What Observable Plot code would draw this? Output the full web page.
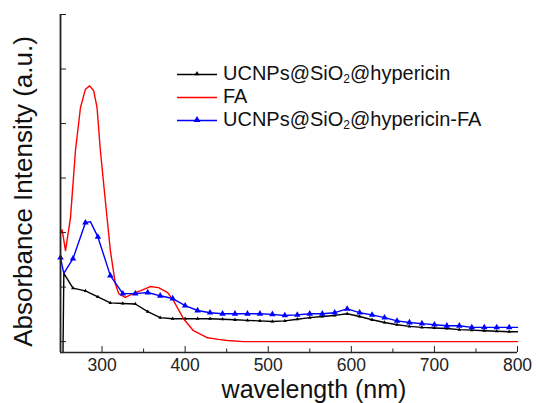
<!DOCTYPE html>
<html><head><meta charset="utf-8">
<script src="https://cdn.jsdelivr.net/npm/d3@7"></script>
<script src="https://cdn.jsdelivr.net/npm/@observablehq/plot@0.6"></script>
<style>
body{margin:0;background:#fff}
#wrap{position:relative;width:538px;height:403px;font-family:"Liberation Sans",Arial,sans-serif}
.leg{position:absolute;left:177px;top:62px;font-size:20px;color:#111}
.row{display:flex;align-items:center;height:23px;white-space:nowrap}
.row svg{margin-right:6px;flex:none}
sub{font-size:12px;vertical-align:-3px;line-height:0}
</style></head><body><div id="wrap"></div>
<script>
// wavelength (nm) and absorbance (a.u.)
const faWl  = [250,252,256,262,268,274,280,285,290,294,298,304,310,316,320,328,340,346,358,368,379,386,398,410,427,440,451,470,800];
const faAbs = [2.0,2.05,1.67,2.27,3.5,4.29,4.63,4.69,4.6,4.29,3.5,2.58,1.67,1.06,0.88,0.81,0.9,0.93,1.01,0.99,0.9,0.75,0.42,0.2,0.07,0.04,0.02,0,0];

const blueWl  = [250,254,265,280,286,295,310,325,340,355,370,385,400,415,430,445,460,475,490,505,520,535,550,565,580,595,610,625,640,655,670,685,700,715,730,745,760,775,790,800];
const blueAbs = [1.54,1.25,1.52,2.18,2.2,1.92,1.21,0.88,0.88,0.9,0.84,0.79,0.66,0.57,0.53,0.51,0.51,0.51,0.51,0.5,0.48,0.49,0.51,0.51,0.53,0.6,0.53,0.49,0.44,0.38,0.35,0.33,0.31,0.29,0.29,0.26,0.26,0.26,0.26,0.26];

const blackWl  = [253,254,265,280,295,310,325,340,355,370,385,400,415,430,445,460,475,490,505,520,535,550,565,580,595,610,625,640,655,670,685,700,715,730,745,760,775,790,800];
const blackAbs = [-0.2,1.25,0.98,0.93,0.82,0.71,0.7,0.69,0.55,0.44,0.42,0.42,0.42,0.42,0.41,0.4,0.39,0.38,0.37,0.38,0.41,0.44,0.46,0.48,0.51,0.46,0.4,0.35,0.31,0.28,0.26,0.25,0.24,0.22,0.21,0.2,0.19,0.18,0.18];

const majorTicks = [300,400,500,600,700,800];
const minorTicks = [350,450,550,650,750];
const yTicks = [0,1,2,3,4,5,6];

const seriesNames = ["UCNPs@SiO₂@hypericin","FA","UCNPs@SiO₂@hypericin-FA"];
const seriesColors = ["#000000","#ff0000","#0000ff"];

const fa = faWl.map((w,i)=>({w, a: faAbs[i]}));
const blue = blueWl.map((w,i)=>({w, a: blueAbs[i]}));
const black = blackWl.map((w,i)=>({w, a: blackAbs[i]}));
const isMarker = d => (d.w - 250) % 15 === 0 && d.w <= 790;

const chart = Plot.plot({
  width: 538, height: 403,
  marginLeft: 60, marginRight: 21, marginTop: 14, marginBottom: 51,
  style: {fontFamily: "Liberation Sans, Arial, sans-serif", fontSize: "17.5px", color: "#222", background: "#fff"},
  x: {domain: [250, 800]},
  y: {domain: [-0.2, 6]},
  marks: [
    Plot.line(black, {x: "w", y: "a", stroke: seriesColors[0], strokeWidth: 1.4}),
    Plot.dot(black.filter(isMarker), {x: "w", y: "a", symbol: "triangle", r: 1.4, fill: seriesColors[0]}),
    Plot.line(fa, {x: "w", y: "a", stroke: seriesColors[1], strokeWidth: 1.4}),
    Plot.line(blue, {x: "w", y: "a", stroke: seriesColors[2], strokeWidth: 1.4}),
    Plot.dot(blue.filter(isMarker), {x: "w", y: "a", symbol: "triangle", r: 2.4, fill: seriesColors[2]}),
    Plot.ruleX([250], {stroke: "#222", strokeWidth: 1.8}),
    Plot.ruleY([-0.2], {stroke: "#222", strokeWidth: 1.6}),
    Plot.axisY({ticks: yTicks, tickSize: -6, tickFormat: () => "", label: null, stroke: "#222"}),
    Plot.axisX({ticks: majorTicks, tickSize: -6, tickFormat: () => "", label: null, stroke: "#222"}),
    Plot.axisX({ticks: minorTicks, tickSize: -3.5, tickFormat: () => "", label: null, stroke: "#222"}),
    Plot.axisX({ticks: majorTicks, tickSize: 0, tickPadding: 6.5, tickFormat: d => String(d), label: null, fill: "#222"}),
    Plot.text(["wavelength (nm)"], {frameAnchor: "bottom", dx: 25, dy: 37.5, fontSize: 25, lineAnchor: "middle", textAnchor: "middle", fill: "#111"}),
    Plot.text(["Absorbance Intensity (a.u.)"], {frameAnchor: "left", rotate: -90, dx: -36.5, dy: 8, fontSize: 26, lineAnchor: "middle", textAnchor: "middle", fill: "#111"})
  ]
});

const wrap = document.getElementById("wrap");
wrap.appendChild(chart);

// legend overlay
const leg = document.createElement("div");
leg.className = "leg";
const markerSize = [2.5, 0, 3.5];
seriesNames.forEach((name, i) => {
  const row = document.createElement("div");
  row.className = "row";
  const s = markerSize[i];
  const tri = s ? `<path d="M20,${11.5 - s} L${20 + s},${11.5 + s*0.7} L${20 - s},${11.5 + s*0.7} Z" fill="${seriesColors[i]}"/>` : "";
  const label = name.replace("₂", "<sub>2</sub>");
  row.innerHTML = `<svg width="40" height="23"><line x1="0" x2="40" y1="12.5" y2="12.5" stroke="${seriesColors[i]}" stroke-width="1.6"/>${tri}</svg><span>${label}</span>`;
  leg.appendChild(row);
});
wrap.appendChild(leg);
</script></body></html>
